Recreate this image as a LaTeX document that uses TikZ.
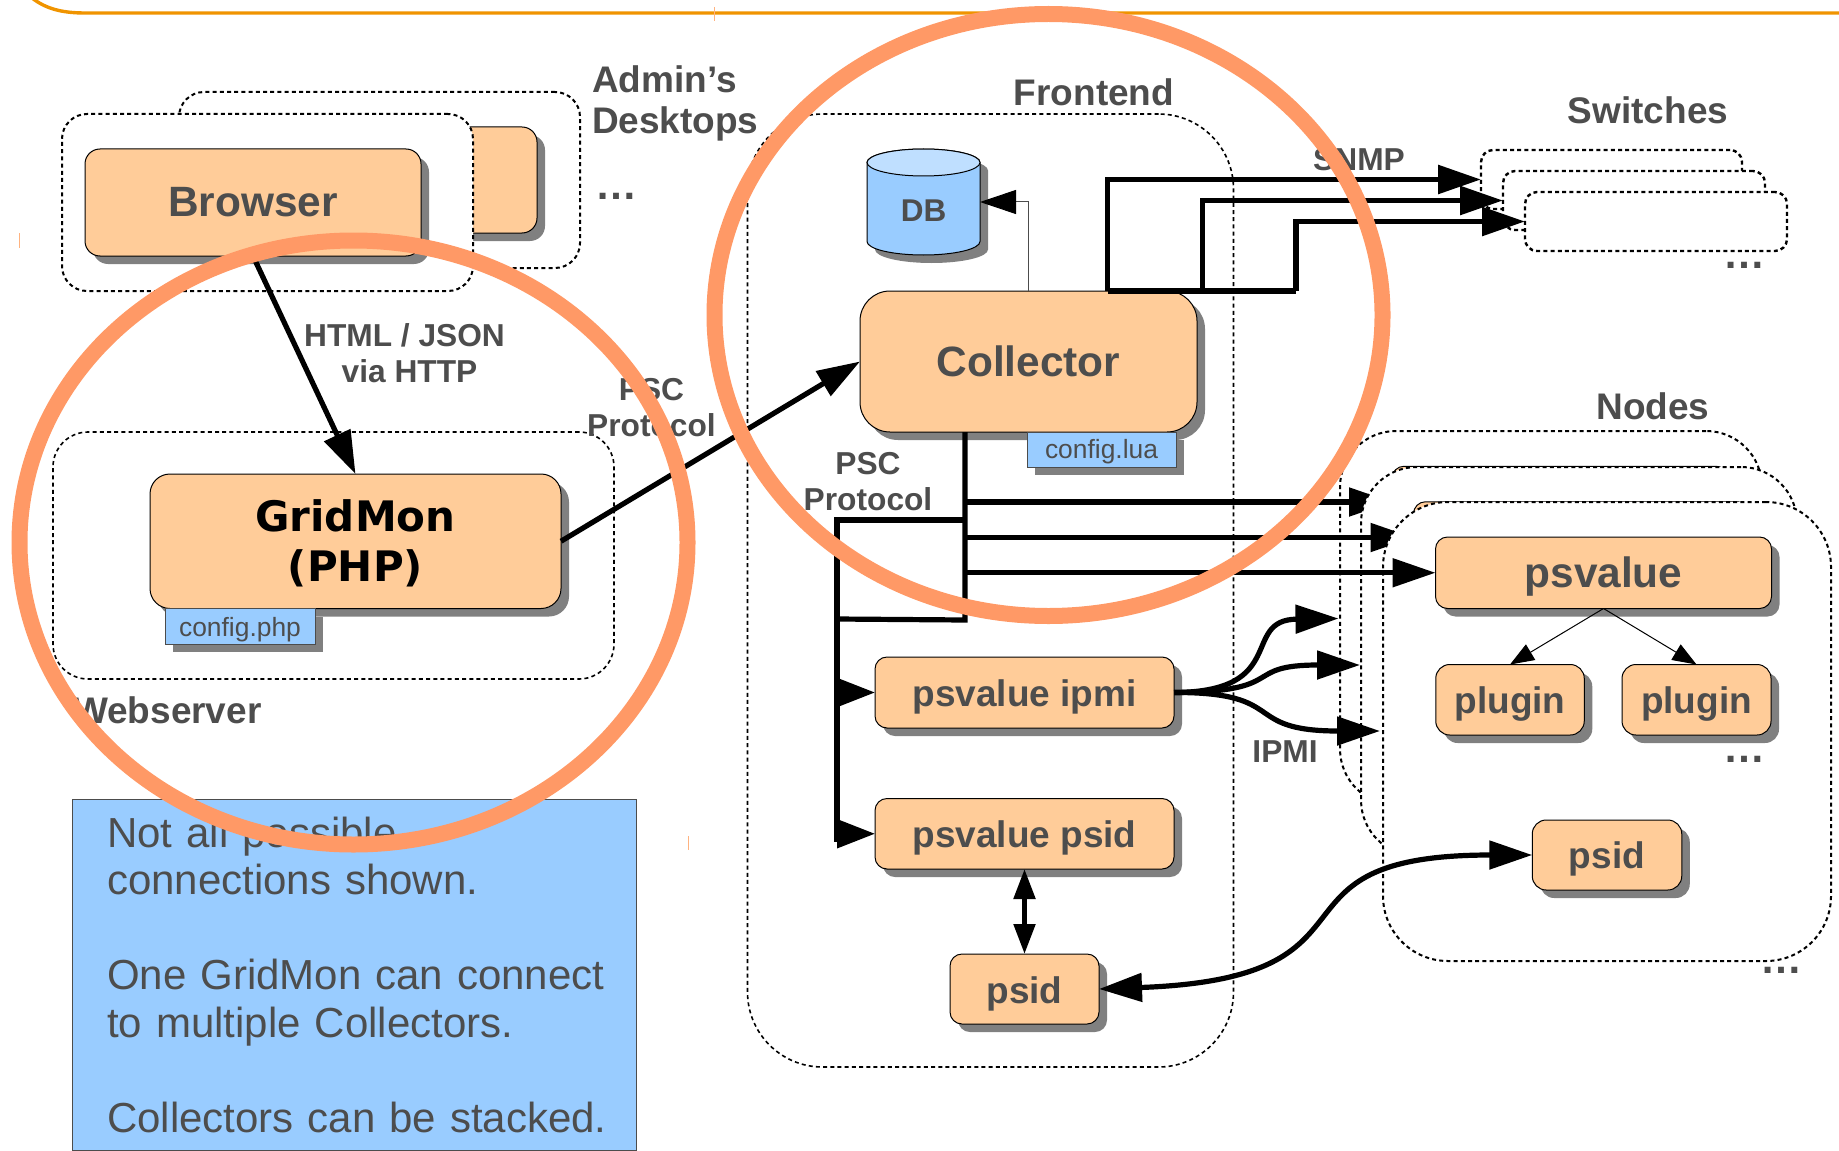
\documentclass[tikz,border=0pt]{standalone}
\usepackage{fontspec}
\setmainfont{Liberation Sans}
\newfontfamily\gridfont{DejaVu Sans}
\usetikzlibrary{arrows.meta,shadows}
\definecolor{orfill}{HTML}{FFCC99}
\definecolor{shgray}{HTML}{808080}
\definecolor{bluefill}{HTML}{99CCFF}
\definecolor{bluetop}{HTML}{BFDFFF}
\definecolor{txtgray}{HTML}{4D4D4D}
\definecolor{ringor}{HTML}{FF9966}
\definecolor{topline}{HTML}{F09400}
\definecolor{tickor}{HTML}{FFB380}
\tikzset{
  every node/.style={inner sep=0pt,outer sep=0pt},
  bigtip/.tip={Triangle[length=21.5pt,width=14pt]},
  flushtip/.tip={Triangle[length=19pt,width=14pt]},
  midtip/.tip={Triangle[length=15pt,width=10.5pt]},
  smalltip/.tip={Triangle[length=12pt,width=9pt]},
  dbtip/.tip={Triangle[length=18pt,width=12pt,black]},
  dropshade/.style={general shadow={fill=shgray,shadow xshift=4pt,shadow yshift=-4pt}},
  obox/.style={draw=black,line width=.5pt,fill=orfill,rounded corners=#1,dropshade,text=txtgray},
  obox/.default=6pt,
  cfgbox/.style={draw=black!70,line width=.5pt,fill=bluefill,dropshade,text=txtgray,font=\fontsize{13.2}{15}\selectfont},
  dbox/.style={draw=black,line width=1pt,dash pattern=on 2pt off 1.6pt,fill=white,rounded corners=#1},
  thick link/.style={draw=black,line width=2.9pt},
  midlink/.style={draw=black,line width=2.6pt},
  thinlink/.style={draw=black,line width=.5pt},
  boldlg/.style={font=\fontsize{21.2}{25}\selectfont\bfseries},
  boldmd/.style={font=\fontsize{18.5}{22}\selectfont\bfseries},
  lbl/.style={text=txtgray,font=\fontsize{15.85}{18}\selectfont\bfseries,align=center},
  lblbig/.style={text=txtgray,font=\fontsize{18.5}{20.5}\selectfont\bfseries},
  dotsl/.style={text=txtgray,font=\fontsize{21}{25}\selectfont\bfseries},
  ring/.style={draw=ringor,line width=8pt},
}
\begin{document}
\begin{tikzpicture}[x=0.5pt,y=-0.5pt]
\useasboundingbox (0,0) rectangle (1839,1150);
% slide remnants
\draw[topline,line width=1.7pt] (32,-2) .. controls (45,8) and (60,13) .. (85,13) -- (1839,13);
\draw[tickor,line width=.5pt] (714,7) -- (714,21);
\draw[tickor,line width=.5pt] (19.5,233) -- (19.5,248);
\draw[tickor,line width=.5pt] (688,836) -- (688,850);

% Admin desktops
\node[dbox=12.5pt,minimum width=200.5pt,minimum height=88pt] (adminback) at (379.5,180) {};
\node[obox=7.5pt,minimum width=168pt,minimum height=53pt] (browserback) at (369,180) {};
\node[dbox=12.5pt,minimum width=205.5pt,minimum height=88.5pt] (adminfront) at (267.5,202.5) {};
\node[obox=7.5pt,boldlg,minimum width=168pt,minimum height=53.5pt,text height=14.5pt,text depth=0pt] (browser) at (253,202.5) {Browser};

% Webserver
\node[dbox=17.5pt,minimum width=280.5pt,minimum height=123.5pt,line width=.8pt] (websrv) at (333.5,555.5) {};
\node[obox=10pt,minimum width=205.5pt,minimum height=67.25pt,align=center,text=black,font=\gridfont\fontsize{21}{24.75}\selectfont\bfseries] (gridmon) at (355.5,541.25) {\rule{0pt}{18.25pt}GridMon\\(PHP)};
\node[cfgbox,minimum width=75pt,minimum height=17.75pt,text height=9.75pt,text depth=0pt] (cfgphp) at (240,626.25) {config.php};

% Frontend
\node[dbox=37.5pt,minimum width=243pt,minimum height=476.5pt,line width=.8pt] (frontend) at (990.5,590.5) {};
\draw[draw=black,line width=.5pt,fill=bluefill,dropshade]
  (867,162.5) .. controls (867,155) and (892.3,149) .. (923.5,149)
  .. controls (954.7,149) and (980,155) .. (980,162.5) -- (980,241.5)
  .. controls (980,249) and (954.7,255) .. (923.5,255)
  .. controls (892.3,255) and (867,249) .. (867,241.5) -- cycle;
\draw[draw=black,line width=.5pt,fill=bluetop] (923.5,162.5) ellipse [x radius=28.25pt,y radius=6.75pt];
\node[minimum width=56.5pt,minimum height=53pt,text=txtgray,font=\fontsize{15.75}{18}\selectfont\bfseries,text height=19pt,text depth=0pt] (db) at (923.5,202) {DB};
\node[obox=15pt,boldlg,minimum width=168.5pt,minimum height=70.5pt,text height=14.5pt,text depth=0pt] (collector) at (1028.5,361.5) {Collector};
\node[cfgbox,minimum width=74.5pt,minimum height=17.5pt,text height=8.5pt,text depth=0pt] (cfglua) at (1101.5,449.5) {config.lua};
\node[obox=6pt,boldmd,minimum width=149.5pt,minimum height=35.5pt,text height=13.5pt,text depth=0pt] (pvipmi) at (1024.5,692.5) {psvalue ipmi};
\node[obox=6pt,boldmd,minimum width=149.5pt,minimum height=35.25pt,text height=13.5pt,text depth=0pt] (pvpsid) at (1024.5,833.75) {psvalue psid};
\node[obox=6pt,boldmd,minimum width=74.5pt,minimum height=35pt,text height=14pt,text depth=0pt] (psidf) at (1024.5,989) {psid};

% Switches
\node[dbox=6pt,minimum width=130.5pt,minimum height=29.5pt,line width=1.2pt] (sw1) at (1611.5,179.5) {};
\node[dbox=6pt,minimum width=131pt,minimum height=29.5pt,line width=1.2pt] (sw2) at (1634,200.5) {};
\node[dbox=6pt,minimum width=131pt,minimum height=29.5pt,line width=1.2pt] (sw3) at (1656,221.5) {};

% Nodes, stacked back to front
\node[dbox=28pt,minimum width=211pt,minimum height=187pt] (node1) at (1551,618) {};
\node[obox=6pt,minimum width=168pt,minimum height=35.75pt] (psvone) at (1560,502) {};
\draw[midlink,-bigtip] (965,502) -- (psvone.west);
\node[dbox=28pt,minimum width=218pt,minimum height=194.5pt] (node2) at (1579,661.5) {};
\node[obox=6pt,minimum width=168pt,minimum height=35.75pt] (psvtwo) at (1581.5,537.5) {};
\draw[midlink,-bigtip] (965,537.5) -- (psvtwo.west);
\node[dbox=32.5pt,minimum width=224pt,minimum height=229.5pt] (node3) at (1607,731.5) {};
\node[obox=6pt,boldlg,minimum width=168pt,minimum height=35.75pt,text height=15pt,text depth=0pt] (psvalue) at (1603.5,572.75) {psvalue};
\node[obox=7pt,boldmd,minimum width=74.25pt,minimum height=35.25pt,text height=14pt,text depth=0pt] (plugina) at (1510,699.75) {plugin};
\node[obox=7pt,boldmd,minimum width=74.5pt,minimum height=35.25pt,text height=14pt,text depth=0pt] (pluginb) at (1696.5,699.75) {plugin};
\node[obox=7pt,boldmd,minimum width=74.75pt,minimum height=35pt,text height=13pt,text depth=0pt] (psidn) at (1607,855) {psid};

% Connectors
\draw[midlink,-bigtip] (gridmon.east) -- (collector.west);
\draw[midlink,-bigtip] (browser.south) -- (gridmon.north);
\draw[draw=black!70,line width=.5pt,-dbtip] (collector.north) |- (db.east);

\coordinate (swa) at (1107.5,291);
\coordinate (swb) at (1202.5,291);
\coordinate (swc) at (1296,291);
\draw[thick link] (swa) -- (swc);
\draw[thick link,-bigtip] (swa) |- (sw1.west);
\draw[thick link,-bigtip] (swb) |- (sw2.west);
\draw[thick link,-bigtip] (swc) |- (sw3.west);

\coordinate (trunktop) at (965,432);
\coordinate (trunkmid) at (965,520);
\coordinate (trunkend) at (965,620);
\coordinate (busa) at (837,520);
\coordinate (busb) at (837,619);
\coordinate (busc) at (837,842);
\draw[midlink] (trunktop) -- (trunkend) -- (busb);
\draw[midlink] (trunkmid) -- (busa) -- (busc);
\draw[midlink,-bigtip] (psvalue.west -| trunktop) -- (psvalue.west);
\draw[midlink,-flushtip] (pvipmi.west -| busa) -- (pvipmi.west);
\draw[midlink,-flushtip] (pvpsid.west -| busa) -- (pvpsid.west);
\draw[midlink,midtip-midtip] (pvpsid.south) -- (psidf.north);
\draw[thinlink,-smalltip] (psvalue.south) -- (plugina.north);
\draw[thinlink,-smalltip] (psvalue.south) -- (pluginb.north);

\coordinate (ipa) at (1338.5,618.5);
\coordinate (ipb) at (1360,665);
\coordinate (ipc) at (1380,731);
\draw[midlink,-bigtip] (pvipmi.east) .. controls (1290,692) and (1240,620) .. (ipa);
\draw[midlink,-bigtip] (pvipmi.east) .. controls (1290,692) and (1240,665) .. (ipb);
\draw[midlink,-bigtip] (pvipmi.east) .. controls (1290,692) and (1240,731) .. (ipc);
\draw[midlink,bigtip-bigtip] (psidf.east) .. controls (1400,978) and (1250,855) .. (psidn.west);

% Labels
\node[lblbig,align=left,anchor=west] (admin) at (592,103.5) {Admin’s\\Desktops};
\node[dotsl] (dotsa) at (616.5,196) {…};
\node[lbl] (httplbl) at (404.5,353) {HTML / JSON\\\hspace*{5pt}via HTTP};
\node[lbl] (psca) at (651.5,408) {PSC\\Protocol};
\node[lbl] (pscb) at (868,481.5) {PSC\\Protocol};
\node[lblbig,anchor=base] (frontlbl) at (1094,106) {Frontend};
\node[lbl,anchor=base] (snmp) at (1359,171) {SNMP};
\node[lblbig,anchor=base] (switches) at (1648,124) {Switches};
\node[dotsl] (dotsb) at (1744,265) {…};
\node[lblbig,anchor=base] (nodeslbl) at (1653,419) {Nodes};
\node[dotsl] (dotsc) at (1744,759) {…};
\node[dotsl] (dotsd) at (1781,970) {…};
\node[lbl,anchor=base] (ipmi) at (1285,762) {IPMI};
\node[lblbig,anchor=base west] (weblbl) at (73,723) {Webserver};

% Note
\node[draw=black!70,line width=.5pt,fill=bluefill,minimum width=282.25pt,minimum height=175.5pt] (note) at (354.25,974.5) {};
\node[anchor=west,text width=270pt,align=left,text=txtgray,font=\fontsize{21}{23.75}\selectfont] (notetext) at (107,974.5)
 {Not all possible\\connections shown.\\[23.75pt]One GridMon can connect\\to multiple Collectors.\\[23.75pt]Collectors can be stacked.};

% Highlight rings
\draw[ring] (353.5,542.5) ellipse [x radius=167pt,y radius=151pt];
\draw[ring] (1048.5,315) ellipse [x radius=167pt,y radius=150.5pt];
\end{tikzpicture}
\end{document}
